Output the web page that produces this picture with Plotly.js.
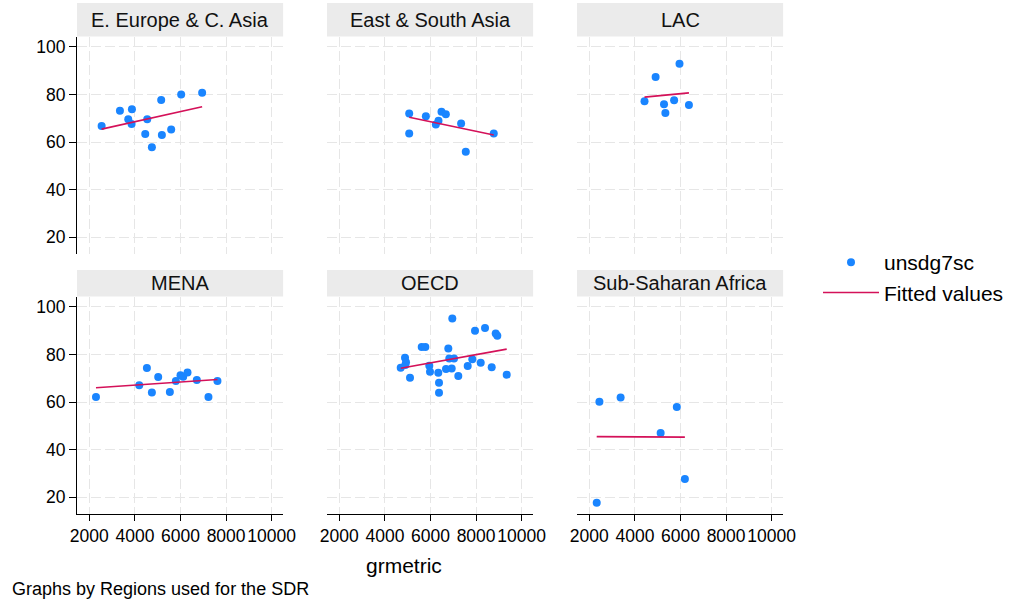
<!DOCTYPE html>
<html>
<head>
<meta charset="utf-8">
<script src="https://cdn.plot.ly/plotly-3.0.1.min.js"></script>
<style>
  html, body { margin: 0; padding: 0; background: #fff; }
  #chart { width: 1014px; height: 601px; }
</style>
</head>
<body>
<div id="chart"></div>
<script>
// Regions (panel order: row by row)
const regions = ["E. Europe & C. Asia", "East & South Asia", "LAC", "MENA", "OECD", "Sub-Saharan Africa"];

// grmetric (x) and unsdg7sc (y) per region
const eecaX = [2540, 3343, 3869, 3708, 3854, 4540, 4453, 4745, 5153, 5183, 5591, 6029, 6949];
const eecaY = [66.7, 73.1, 73.8, 69.6, 67.6, 69.6, 63.4, 57.8, 77.6, 62.9, 65.3, 79.9, 80.7];

const esaX = [5066, 5066, 5796, 6234, 6350, 6482, 6672, 7343, 7547, 8774];
const esaY = [72.0, 63.6, 70.8, 67.4, 68.9, 72.7, 71.7, 67.8, 55.9, 63.6];

const lacX = [4421, 4908, 5956, 5277, 5720, 5336, 6369];
const lacY = [77.1, 87.3, 92.9, 75.9, 77.5, 72.2, 75.5];

const menaX = [2292, 4190, 4526, 4745, 5022, 5533, 5796, 6000, 6117, 6307, 6715, 7226, 7620];
const menaY = [62.1, 67.0, 74.3, 64.0, 70.5, 64.2, 68.8, 71.2, 70.6, 72.4, 69.2, 62.1, 68.8];

const oecdX = [6956, 7952, 8391, 8860, 8930, 5614, 5772, 6781, 4882, 4925, 4693, 4895, 5101, 5947,
               5978, 6342, 6373, 6373, 6680, 6825, 7031, 6930, 7219, 7632, 7833, 8202, 8684, 9342];
const oecdY = [95.1, 89.9, 91.1, 88.8, 87.8, 83.1, 83.1, 82.5, 78.6, 76.7, 74.4, 75.5, 70.2, 75.2,
               72.7, 72.3, 68.1, 63.9, 73.9, 78.3, 78.3, 74.1, 70.9, 75.1, 78.0, 76.5, 74.6, 71.5];

const ssaX = [2443, 3373, 5838, 5129, 6192, 2325];
const ssaY = [60.1, 61.9, 57.9, 47.0, 27.7, 17.7];

const xTicks = [2000, 4000, 6000, 8000, 10000];
const yTicks = [20, 40, 60, 80, 100];

const panels = [
  [eecaX, eecaY], [esaX, esaY], [lacX, lacY],
  [menaX, menaY], [oecdX, oecdY], [ssaX, ssaY]
];

const dotColor = "#1a85ff";
const fitColor = "#d41159";
const font = "Liberation Sans, Arial, sans-serif";

// Least-squares line over the observed x span
function linearFit(xs, ys) {
  const n = xs.length;
  const mx = xs.reduce((a, b) => a + b, 0) / n;
  const my = ys.reduce((a, b) => a + b, 0) / n;
  let sxy = 0, sxx = 0;
  for (let i = 0; i < n; i++) {
    sxy += (xs[i] - mx) * (ys[i] - my);
    sxx += (xs[i] - mx) * (xs[i] - mx);
  }
  const b = sxy / sxx, a = my - b * mx;
  const lo = Math.min(...xs), hi = Math.max(...xs);
  return { x: [lo, hi], y: [a + b * lo, a + b * hi] };
}

// Panel geometry in pixels
const W = 1014, H = 601;
const colPx = [[77, 283.1], [327, 533.1], [577, 783.1]];
const rowPx = [[36.5, 253.5], [296.5, 513.5]];
const stripPx = [[3, 36.5], [270, 296.5]];

const traces = [];
const layout = {
  width: W, height: H,
  margin: { l: 0, r: 0, t: 0, b: 0, autoexpand: false },
  paper_bgcolor: "#fff",
  plot_bgcolor: "#fff",
  font: { family: font, color: "#000", size: 17 },
  showlegend: true,
  legend: {
    x: 818 / W, xanchor: "left",
    y: 1 - 242 / H, yanchor: "top",
    font: { family: font, size: 21, color: "#000" },
    itemwidth: 56,
    tracegroupgap: 0,
    bgcolor: "rgba(0,0,0,0)"
  },
  shapes: [],
  annotations: []
};

panels.forEach((p, i) => {
  const r = Math.floor(i / 3), c = i % 3;
  const k = i + 1;
  const xa = "x" + (k === 1 ? "" : k), ya = "y" + (k === 1 ? "" : k);
  const xName = "xaxis" + (k === 1 ? "" : k), yName = "yaxis" + (k === 1 ? "" : k);

  traces.push({
    type: "scatter", mode: "markers", x: p[0], y: p[1],
    xaxis: xa, yaxis: ya,
    name: "unsdg7sc", legendgroup: "a", showlegend: i === 0,
    marker: { color: dotColor, size: 8 },
    hoverinfo: "skip"
  });
  const f = linearFit(p[0], p[1]);
  traces.push({
    type: "scatter", mode: "lines", x: f.x, y: f.y,
    xaxis: xa, yaxis: ya,
    name: "Fitted values", legendgroup: "b", showlegend: i === 0,
    line: { color: fitColor, width: 1.6 },
    hoverinfo: "skip"
  });

  const bottomRow = r === 1, leftCol = c === 0;
  layout[xName] = {
    domain: [colPx[c][0] / W, colPx[c][1] / W],
    range: [1460, 10500],
    anchor: ya,
    tickvals: xTicks, ticktext: xTicks.map(String),
    tickangle: 0,
    showgrid: true, gridcolor: "#e6e6e6", griddash: "10px,4px", gridwidth: 1,
    zeroline: false,
    showline: bottomRow, linecolor: "#000", linewidth: 1,
    ticks: bottomRow ? "outside" : "", ticklen: 6, tickcolor: "#000",
    showticklabels: bottomRow,
    tickfont: { family: font, size: 17.5, color: "#000" }
  };
  layout[yName] = {
    domain: [1 - rowPx[r][1] / H, 1 - rowPx[r][0] / H],
    range: [13.2, 104.3],
    anchor: xa,
    tickvals: yTicks, ticktext: yTicks.map(String),
    tickangle: 0,
    showgrid: true, gridcolor: "#e6e6e6", griddash: "10px,4px", gridwidth: 1,
    zeroline: false,
    showline: leftCol, linecolor: "#000", linewidth: 1,
    ticks: leftCol ? "outside" : "", ticklen: 7, tickcolor: "#000",
    showticklabels: leftCol,
    tickfont: { family: font, size: 17.5, color: "#000" }
  };

  // Header strip
  layout.shapes.push({
    type: "rect", xref: "paper", yref: "paper",
    x0: colPx[c][0] / W, x1: colPx[c][1] / W,
    y0: 1 - stripPx[r][1] / H, y1: 1 - stripPx[r][0] / H,
    fillcolor: "#ebebeb", line: { width: 0 }, layer: "below"
  });
  layout.annotations.push({
    xref: "paper", yref: "paper",
    x: (colPx[c][0] + colPx[c][1]) / 2 / W,
    y: 1 - (stripPx[r][0] + stripPx[r][1]) / 2 / H,
    xanchor: "center", yanchor: "middle",
    text: regions[i], showarrow: false,
    font: { family: font, size: 20, color: "#111" }
  });
});

// Shared x-axis title
layout.annotations.push({
  xref: "paper", yref: "paper", x: 404 / W, y: 1 - 565 / H,
  xanchor: "center", yanchor: "middle", showarrow: false,
  text: "grmetric", font: { family: font, size: 21, color: "#000" }
});
// Note under the graph
layout.annotations.push({
  xref: "paper", yref: "paper", x: 10 / W, y: 1 - 589 / H,
  xanchor: "left", yanchor: "middle", showarrow: false,
  text: "Graphs by Regions used for the SDR", font: { family: font, size: 18, color: "#000" }
});

Plotly.newPlot("chart", traces, layout, { staticPlot: true, displayModeBar: false });
</script>
</body>
</html>
